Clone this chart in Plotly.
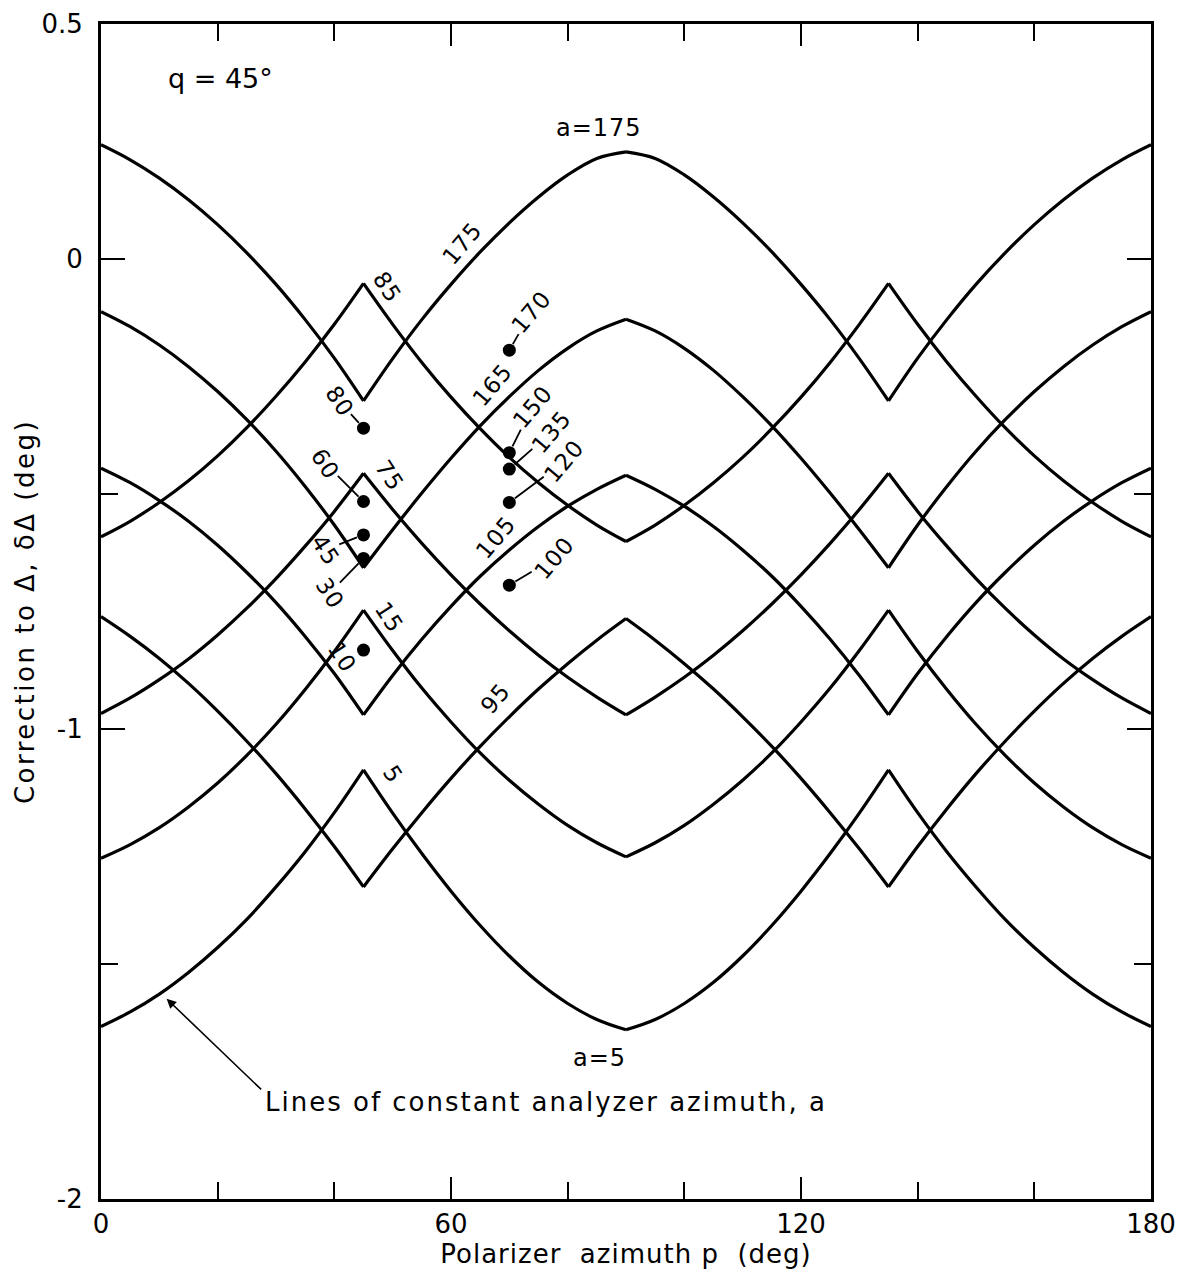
import plotly.graph_objects as go

# ---------------- data ----------------
P = [0, 5, 10, 15, 20, 25, 30, 35, 40, 45, 50, 55, 60, 65, 70, 75, 80, 85, 90,
     95, 100, 105, 110, 115, 120, 125, 130, 135, 140, 145, 150, 155, 160, 165, 170, 175, 180]

A175 = [0.243, 0.211, 0.172, 0.126, 0.073, 0.013, -0.054, -0.129, -0.211, -0.302,
        -0.212, -0.129, -0.054, 0.015, 0.077, 0.132, 0.179, 0.214, 0.228,
        0.214, 0.179, 0.132, 0.077, 0.015, -0.054, -0.129, -0.212, -0.302,
        -0.211, -0.129, -0.054, 0.013, 0.073, 0.126, 0.172, 0.211, 0.243]
A165 = [-0.112, -0.144, -0.183, -0.229, -0.282, -0.342, -0.409, -0.484, -0.566, -0.657,
        -0.576, -0.498, -0.424, -0.355, -0.293, -0.237, -0.190, -0.153, -0.128,
        -0.153, -0.190, -0.237, -0.293, -0.355, -0.424, -0.498, -0.576, -0.657,
        -0.566, -0.484, -0.409, -0.342, -0.282, -0.229, -0.183, -0.144, -0.112]
A105 = [-0.445, -0.476, -0.514, -0.558, -0.609, -0.667, -0.731, -0.803, -0.882, -0.970,
        -0.886, -0.809, -0.739, -0.675, -0.619, -0.569, -0.526, -0.490, -0.460,
        -0.490, -0.526, -0.569, -0.619, -0.675, -0.739, -0.809, -0.886, -0.970,
        -0.882, -0.803, -0.731, -0.667, -0.609, -0.558, -0.514, -0.476, -0.445]
A95 = [-0.761, -0.803, -0.850, -0.903, -0.962, -1.026, -1.095, -1.170, -1.250, -1.336,
       -1.255, -1.178, -1.105, -1.037, -0.974, -0.915, -0.861, -0.811, -0.765,
       -0.811, -0.861, -0.915, -0.974, -1.037, -1.105, -1.178, -1.255, -1.336,
       -1.250, -1.170, -1.095, -1.026, -0.962, -0.903, -0.850, -0.803, -0.761]
A85 = [-0.591, -0.558, -0.518, -0.472, -0.419, -0.359, -0.292, -0.219, -0.139, -0.052,
       -0.139, -0.220, -0.294, -0.361, -0.422, -0.476, -0.524, -0.566, -0.601,
       -0.566, -0.524, -0.476, -0.422, -0.361, -0.294, -0.220, -0.139, -0.052,
       -0.139, -0.219, -0.292, -0.359, -0.419, -0.472, -0.518, -0.558, -0.591]
A75 = [-0.967, -0.934, -0.895, -0.851, -0.800, -0.743, -0.680, -0.611, -0.537, -0.456,
       -0.533, -0.605, -0.672, -0.734, -0.791, -0.843, -0.890, -0.932, -0.970,
       -0.932, -0.890, -0.843, -0.791, -0.734, -0.672, -0.605, -0.533, -0.456,
       -0.537, -0.611, -0.680, -0.743, -0.800, -0.851, -0.895, -0.934, -0.967]
A15 = [-1.275, -1.246, -1.210, -1.166, -1.115, -1.056, -0.990, -0.916, -0.835, -0.747,
       -0.833, -0.913, -0.985, -1.051, -1.109, -1.160, -1.205, -1.242, -1.272,
       -1.242, -1.205, -1.160, -1.109, -1.051, -0.985, -0.913, -0.833, -0.747,
       -0.835, -0.916, -0.990, -1.056, -1.115, -1.166, -1.210, -1.246, -1.275]
A5 = [-1.633, -1.602, -1.564, -1.518, -1.465, -1.405, -1.336, -1.261, -1.178, -1.087,
      -1.179, -1.265, -1.345, -1.418, -1.483, -1.539, -1.584, -1.618, -1.640,
      -1.618, -1.584, -1.539, -1.483, -1.418, -1.345, -1.265, -1.179, -1.087,
      -1.178, -1.261, -1.336, -1.405, -1.465, -1.518, -1.564, -1.602, -1.633]

ANALYZER = [5, 15, 75, 85, 95, 105, 165, 175]
CURVES = [A5, A15, A75, A85, A95, A105, A165, A175]

# single computed points (analyzer azimuth, polarizer azimuth, correction)
DOT_A = ["80", "60", "45", "30", "10", "170", "150", "135", "120", "100"]
DOT_P = [45, 45, 45, 45, 45, 70, 70, 70, 70, 70]
DOT_V = [-0.360, -0.516, -0.587, -0.637, -0.832, -0.194, -0.412, -0.447, -0.518, -0.694]

X_TICKS = [0, 60, 120, 180]
X_MINOR = [20, 40, 80, 100, 140, 160]
Y_TICKS = [0.5, 0, -1, -2]
Y_TICK_TEXT = ["0.5", "0", "-1", "-2"]
Y_MINOR = [-0.5, -1.5]

# ---------------- styling / layout ----------------
FONT = "DejaVu Sans"
INK = "black"
CORNERS = [0, 9, 18, 27, 36]   # indices of p = 0, 45, 90, 135, 180 (sharp corners)


def spaced(txt, px):
    return f'<span style="letter-spacing:{px}px">{txt}</span>'


def segmented(xs, ys):
    """Split a curve at its corner points so each smooth arc is splined alone."""
    sx, sy = [], []
    for i0, i1 in zip(CORNERS[:-1], CORNERS[1:]):
        sx += xs[i0:i1 + 1] + [None]
        sy += ys[i0:i1 + 1] + [None]
    return sx[:-1], sy[:-1]


fig = go.Figure()
for a, vals in zip(ANALYZER, CURVES):
    sx, sy = segmented(P, vals)
    fig.add_trace(go.Scatter(x=sx, y=sy, mode="lines", name=f"a={a}",
                             line=dict(color=INK, width=3.2, shape="spline", smoothing=1.0),
                             connectgaps=False, showlegend=False, hoverinfo="skip"))

fig.add_trace(go.Scatter(x=DOT_P, y=DOT_V, mode="markers", name="points",
                         marker=dict(color=INK, size=13), showlegend=False,
                         text=DOT_A, hoverinfo="text"))

annotations = []

# labels lying along the curves (text, p, value, angle)
curve_labels = [
    ("175", 62.0, 0.033, -50),
    ("165", 67.1, -0.268, -50),
    ("105", 67.7, -0.591, -50),
    ("95", 67.7, -0.935, -50),
    ("85", 49.1, -0.059, 57),
    ("75", 49.4, -0.460, 57),
    ("15", 49.4, -0.761, 57),
    ("5", 50.0, -1.096, 57),
]
for txt, px, py, ang in curve_labels:
    annotations.append(dict(x=px, y=py, xref="x", yref="y", text=spaced(txt, 1),
                            showarrow=False, textangle=ang,
                            font=dict(family=FONT, size=23, color=INK)))

# labels of the dots with short leader lines (pixel offsets of the text)
dot_offsets = {"80": (-24, -27, 57), "60": (-38, -38, 57), "45": (-38, 15, 57),
               "30": (-34, 35, 57), "170": (22, -38, -50), "150": (23, -46, -50),
               "135": (42, -37, -50), "120": (55, -41, -50), "100": (45, -27, -50)}
for lab, px, py in zip(DOT_A, DOT_P, DOT_V):
    if lab in dot_offsets:
        ax, ay, ang = dot_offsets[lab]
        annotations.append(dict(x=px, y=py, xref="x", yref="y", text=spaced(lab, 1),
                                showarrow=True, ax=ax, ay=ay, arrowhead=0,
                                arrowwidth=1.8, arrowcolor=INK, standoff=7,
                                textangle=ang,
                                font=dict(family=FONT, size=23, color=INK)))
    else:
        annotations.append(dict(x=px - 3.6, y=py - 0.014, xref="x", yref="y",
                                text=spaced(lab, 1), showarrow=False, textangle=57,
                                font=dict(family=FONT, size=23, color=INK)))

annotations += [
    dict(x=85.4, y=0.279, xref="x", yref="y", text=spaced("a=175", 1), showarrow=False,
         font=dict(family=FONT, size=24, color=INK)),
    dict(x=85.4, y=-1.700, xref="x", yref="y", text=spaced("a=5", 1), showarrow=False,
         font=dict(family=FONT, size=24, color=INK)),
    dict(x=20.5, y=0.385, xref="x", yref="y", text="q = 45°", showarrow=False,
         font=dict(family=FONT, size=27, color=INK)),
    dict(x=27.8, y=-1.794, xref="x", yref="y",
         text=spaced("Lines of constant analyzer azimuth, a", 2),
         showarrow=False, xanchor="left", yanchor="middle",
         font=dict(family=FONT, size=26, color=INK)),
    dict(x=11, y=-1.571, xref="x", yref="y", text=" ", showarrow=True,
         ax=98, ay=94, arrowhead=2, arrowsize=1.2, arrowwidth=1.6,
         arrowcolor=INK, standoff=2,
         font=dict(family=FONT, size=4, color=INK)),
]

fig.update_layout(
    width=1178, height=1286,
    margin=dict(l=101, r=27, t=24, b=87),
    paper_bgcolor="white", plot_bgcolor="white",
    font=dict(family=FONT, size=24, color=INK),
    annotations=annotations,
    showlegend=False,
)

fig.update_xaxes(
    range=[0, 180], tickmode="array", tickvals=X_TICKS, ticktext=[str(v) for v in X_TICKS],
    ticks="inside", ticklen=22, tickwidth=2, tickcolor=INK,
    minor=dict(tickmode="array", tickvals=X_MINOR, ticks="inside", ticklen=17,
               tickwidth=2, tickcolor=INK, showgrid=False),
    showline=True, linewidth=3, linecolor=INK, mirror="allticks",
    showgrid=False, zeroline=False, ticklabelstandoff=0, automargin=False,
    tickfont=dict(family=FONT, size=26, color=INK),
    title=dict(text=spaced("Polarizer  azimuth p  (deg)", 1), standoff=4,
               font=dict(family=FONT, size=26, color=INK)),
)
fig.update_yaxes(
    range=[-2, 0.5], tickmode="array", tickvals=Y_TICKS, ticktext=Y_TICK_TEXT,
    ticks="inside", ticklen=24, tickwidth=2, tickcolor=INK,
    minor=dict(tickmode="array", tickvals=Y_MINOR, ticks="inside", ticklen=17,
               tickwidth=2, tickcolor=INK, showgrid=False),
    showline=True, linewidth=3, linecolor=INK, mirror="allticks",
    showgrid=False, zeroline=False, ticklabelstandoff=10, automargin=False,
    tickfont=dict(family=FONT, size=26, color=INK),
    title=dict(text=spaced("Correction to Δ, δΔ (deg)", 2.5), standoff=0,
               font=dict(family=FONT, size=26, color=INK)),
)

fig.write_html("out.html")
